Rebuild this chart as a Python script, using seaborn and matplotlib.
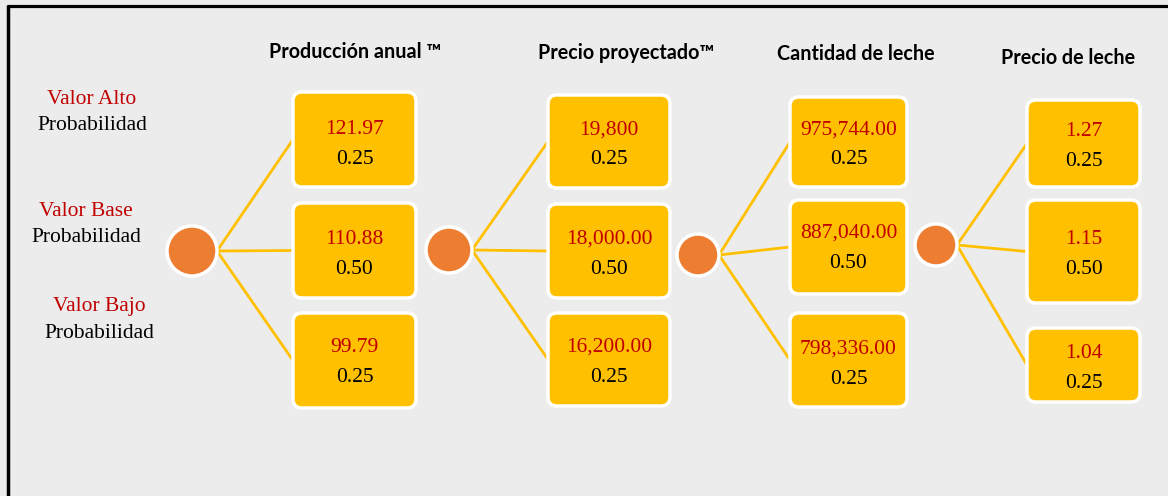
import matplotlib
matplotlib.use("Agg")
import matplotlib.pyplot as plt
import seaborn as sns
from matplotlib.patches import FancyBboxPatch, Circle

# Data
headers = ["Producción anual ™", "Precio proyectado™", "Cantidad de leche", "Precio de leche"]
prod_anual = ["121.97", "110.88", "99.79"]
precio_proy = ["19,800", "18,000.00", "16,200.00"]
cantidad_leche = ["975,744.00", "887,040.00", "798,336.00"]
precio_leche = ["1.27", "1.15", "1.04"]
probs = ["0.25", "0.50", "0.25"]
row_labels = ["Valor Alto", "Valor Base", "Valor Bajo"]
prob_label = "Probabilidad"

columns = [prod_anual, precio_proy, cantidad_leche, precio_leche]

# Layout (pixel coordinates, y downwards)
header_pos = [(355, 52), (626, 53), (856, 54), (1068, 58)]
label_pos = [(92, 100), (86, 212), (99, 307)]
node_pos = [(192, 251, 25), (449, 250, 23), (698, 255, 21), (936, 245, 21)]
# (x0, x1, [(y0, y1) for each row])
box_geom = [
    (293, 416, [(92, 187), (203, 298), (313, 408)]),
    (548, 670, [(95, 188), (204, 298), (313, 406)]),
    (790, 907, [(97, 187), (200, 294), (313, 407)]),
    (1027, 1140, [(100, 187), (200, 303), (328, 402)]),
]
val_y = [
    [129, 239, 348],
    [130, 239, 347],
    [130, 233, 349],
    [131, 240, 353],
]

BG = "#ECECEC"
GOLD = "#FFC000"
ORANGE = "#ED7D31"
RED = "#C00000"

sns.set_style("white")
plt.rcParams["font.family"] = ["Liberation Serif", "DejaVu Serif"]

fig = plt.figure(figsize=(11.68, 4.96), dpi=100)
fig.patch.set_facecolor(BG)
ax = fig.add_axes([0, 0, 1, 1])
ax.set_xlim(0, 1168)
ax.set_ylim(496, 0)
ax.set_facecolor(BG)
ax.axis("off")

# frame (top and left)
ax.plot([7, 1168], [5.5, 5.5], color="black", lw=2.3, solid_capstyle="butt")
ax.plot([7.5, 7.5], [5, 496], color="black", lw=2.5, solid_capstyle="butt")

# headers
for (hx, hy), h in zip(header_pos, headers):
    ax.text(hx, hy, h, ha="center", va="center", fontsize=14.2,
            fontweight="bold", color="black", family=["Lato", "DejaVu Sans"])

# row labels on the left
for (lx, ly), lab in zip(label_pos, row_labels):
    ax.text(lx, ly, lab, ha="center", va="center", fontsize=15.5, color=RED)
    ax.text(lx, ly + 26, prob_label, ha="center", va="center", fontsize=15.5,
            color="black")

for ci, (col_vals, (x0, x1, rows)) in enumerate(zip(columns, box_geom)):
    nx, ny, nr = node_pos[ci]
    for ri, ((y0, y1), val, p) in enumerate(zip(rows, col_vals, probs)):
        ym = (y0 + y1) / 2
        # branch
        ax.plot([nx + nr, x0], [ny, ym], color=GOLD, lw=2, zorder=1)
        box = FancyBboxPatch((x0, y0), x1 - x0, y1 - y0,
                             boxstyle="round,pad=0,rounding_size=9",
                             facecolor=GOLD, edgecolor="white", lw=2.5, zorder=2)
        ax.add_patch(box)
        vy = val_y[ci][ri]
        cx = (x0 + x1) / 2
        ax.text(cx, vy, val, ha="center", va="center", fontsize=15.5,
                color=RED, zorder=3)
        ax.text(cx, vy + 30, p, ha="center", va="center", fontsize=15.5,
                color="black", zorder=3)
    ax.add_patch(Circle((nx, ny), nr, facecolor=ORANGE, edgecolor="white",
                        lw=2.5, zorder=3))

fig.savefig("out.png", dpi=100, facecolor=BG)
